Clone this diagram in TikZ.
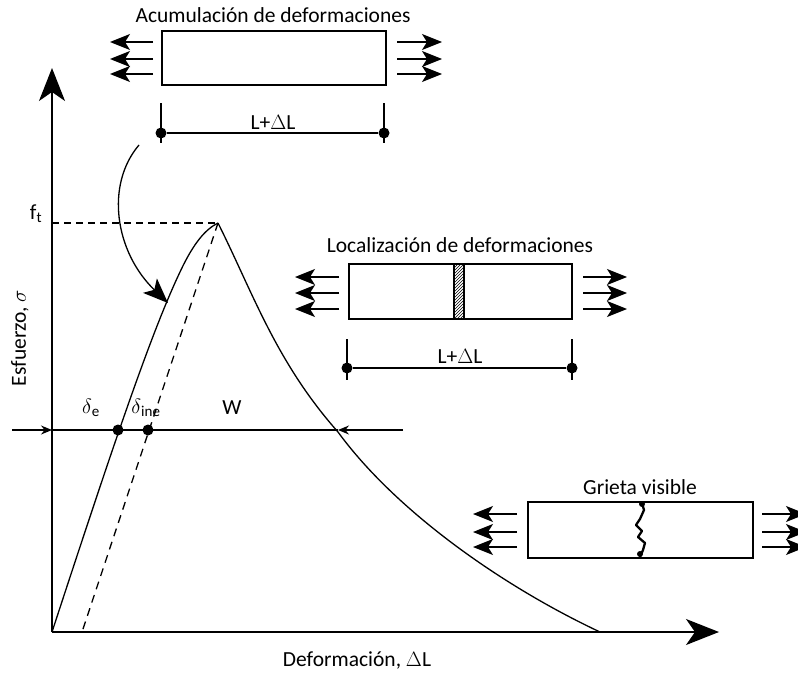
\documentclass[tikz,border=0pt]{standalone}
\usepackage{fontspec}
\setmainfont{Carlito}
\usetikzlibrary{arrows.meta,patterns,calc}
\begin{document}
\begin{tikzpicture}[x=1pt,y=-1pt,
  lab/.style={font=\fontsize{21.5}{24}\selectfont, inner sep=0pt},
  ln/.style={line width=1.3pt},
  barbox/.style={draw, line width=1.5pt, rectangle, inner sep=0pt},
  force/.style={line width=1.3pt, -{Stealth[length=20pt,width=16pt,inset=5pt]}},
  axisarrow/.style={line width=1.4pt, -{Stealth[length=33pt,width=26pt,inset=9pt]}},
  small/.style={line width=1.3pt, -{Stealth[length=11pt,width=9pt]}},
  dot/.style={circle, fill=black, inner sep=0pt, minimum size=11pt}
]
\useasboundingbox (0,0) rectangle (798,677);

% axes
\coordinate (O) at (52,632);
\coordinate (Ytop) at (52,68);
\coordinate (Xend) at (719,632);
\draw[axisarrow] (O) -- (Ytop);
\draw[axisarrow] (O) -- (Xend);
\node[lab, rotate=90] (ylab) at (20,338) {Esfuerzo, $\sigma$};
\node[lab] (xlab) at (357,660) {Deformación, $\Delta$L};

% peak and f_t
\coordinate (P) at (218,223);
\coordinate (Fy) at (52,223);
\node[lab] (ft) at (36,214) {f\textsubscript{t}};
\draw[ln, dash pattern=on 7pt off 5pt] (Fy) -- (P);

% loading curve
\draw[ln] (O) .. controls (110,455) and (150,335) .. (180,272) .. controls (194,242) and (206,229) .. (P);
% unloading dashed
\coordinate (U) at (82,632);
\draw[ln, dash pattern=on 8pt off 6pt] (P) -- (U);
% softening
\coordinate (S) at (600,632);
\draw[ln] (P) .. controls (253,293) and (276,362) .. (338,432) .. controls (395,510) and (500,585) .. (S);

% horizontal line with dots
\coordinate (HL) at (12,430);
\coordinate (HA) at (52,430);
\coordinate (HB) at (338,430);
\coordinate (HR) at (403,430);
\draw[small] (HL) -- (HA);
\draw[ln] (HA) -- (HB);
\draw[small] (HR) -- (HB);
\node[dot] (d1) at (118,430) {};
\node[dot] (d2) at (148,430) {};
\node[lab] (de) at (91,408) {$\delta$\textsubscript{e}};
\node[lab] (di) at (146,408) {$\delta$\textsubscript{ine}};
\node[lab] (w) at (232,408) {W};

% curved arrow
\coordinate (CA) at (139,145);
\coordinate (CB) at (168,303);
\draw[line width=1.3pt, -{Stealth[length=25pt,width=20pt,inset=6pt]}] (CA) .. controls (105,185) and (115,252) .. (CB);

% ---- top bar
\node[lab] (t1) at (273,15) {Acumulación de deformaciones};
\node[barbox, minimum width=224pt, minimum height=54pt] (b1) at (274,58) {};
\foreach \y in {42,59,74}{
  \draw[force] (153,\y) -- (110,\y);
  \draw[force] (397,\y) -- (442,\y);
}
\draw[ln] (161,103) -- (161,143);
\draw[ln] (384,103) -- (384,143);
\node[dot] (a1) at (161,133) {};
\node[dot] (a2) at (384,133) {};
\draw[ln] (a1) -- (a2);
\node[lab] (l1) at (273,122) {L+$\Delta$L};

% ---- middle bar
\node[lab] (t2) at (460,245) {Localización de deformaciones};
\node[barbox, minimum width=223pt, minimum height=55pt] (b2) at (460.5,291.5) {};
\fill[pattern=north east lines] (454,264) rectangle (464,319);
\draw[line width=1.3pt] (454,264) -- (454,319) (464,264) -- (464,319);
\foreach \y in {277,293,309}{
  \draw[force] (339,\y) -- (295,\y);
  \draw[force] (583,\y) -- (627,\y);
}
\draw[ln] (347,339) -- (347,380);
\draw[ln] (572,339) -- (572,380);
\node[dot] (m1) at (347,368) {};
\node[dot] (m2) at (572,368) {};
\draw[ln] (m1) -- (m2);
\node[lab] (l2) at (460,356) {L+$\Delta$L};

% ---- bottom bar
\node[lab] (t3) at (640,487) {Grieta visible};
\node[barbox, minimum width=225pt, minimum height=56pt] (b3) at (640.5,530) {};
\foreach \y in {514,532,547}{
  \draw[force] (517,\y) -- (473,\y);
  \draw[force] (762,\y) -- (806,\y);
}
\draw[line width=2.3pt, line join=round] (642,503) -- (644,510) -- (640,519) -- (636,525) -- (642,531) -- (638,537) -- (645,543) -- (643,550) -- (640,557);
\fill (642,504) circle (3pt);
\fill (640,554) circle (3pt);
\end{tikzpicture}
\end{document}
